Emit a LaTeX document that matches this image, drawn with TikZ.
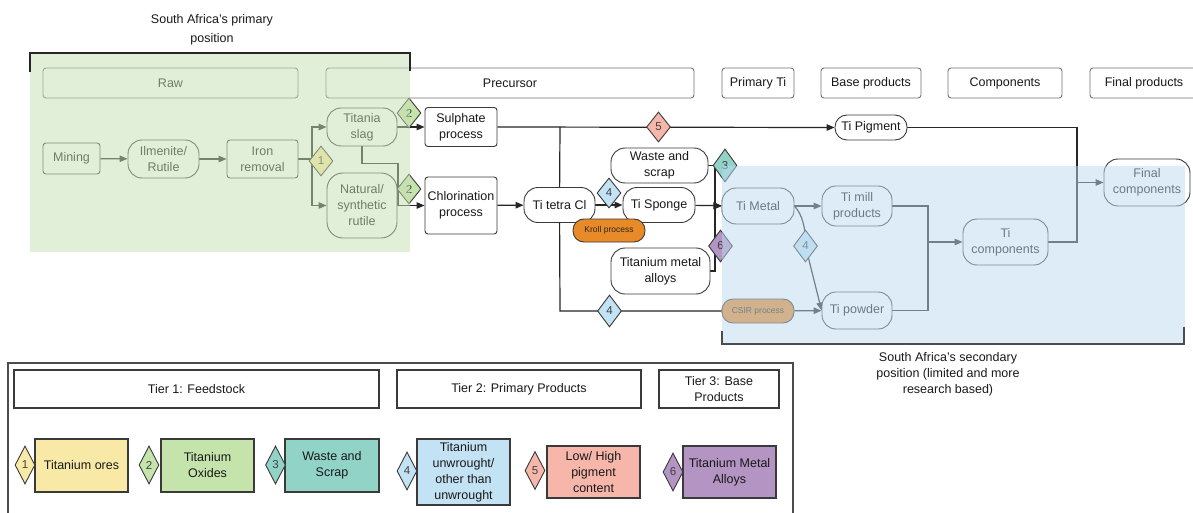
\documentclass[tikz,border=0pt]{standalone}
\usepackage{fontspec}
\setmainfont{Liberation Sans}
\usetikzlibrary{shapes.geometric,arrows.meta}

\definecolor{cyel}{HTML}{F8E9A6}
\definecolor{cgrn}{HTML}{C5E4AC}
\definecolor{cteal}{HTML}{92D3C8}
\definecolor{cblu}{HTML}{C3E3F5}
\definecolor{csal}{HTML}{F7B6AA}
\definecolor{cpur}{HTML}{B394C3}
\definecolor{corg}{HTML}{E98A28}
\definecolor{ovgrn}{rgb}{0.78,0.88,0.70}
\definecolor{ovblu}{rgb}{0.74,0.86,0.94}
\definecolor{edge}{HTML}{3A3A3A}

\pgfdeclarelayer{paper}
\pgfdeclarelayer{links}
\pgfdeclarelayer{shade}
\pgfdeclarelayer{front}
\pgfsetlayers{paper,links,main,shade,front}

\begin{document}
\begin{tikzpicture}[x=1pt,y=-1pt,
  txt/.style={font=\fontsize{12.5}{16}\selectfont, align=center, text=black!90},
  box/.style={txt, draw=edge, fill=white, line width=0.9pt, rounded corners=3pt, inner sep=1pt},
  pill/.style={txt, draw=edge, fill=white, line width=0.9pt, rounded corners=14pt, inner sep=1pt},
  hdr/.style={txt, draw=black!55, fill=white, line width=0.9pt, rounded corners=3pt, minimum height=30pt, inner sep=1pt},
  dia/.style={diamond, draw=edge, line width=0.9pt, inner sep=0pt, minimum width=24pt, minimum height=30pt, font=\fontsize{11.5}{11.5}\selectfont, text=black!75},
  ldia/.style={dia, minimum width=20pt, minimum height=38pt},
  lg/.style={txt, draw=edge, line width=1.2pt, inner sep=1pt},
  orgpill/.style={pill, fill=corg, rounded corners=11pt, font=\fontsize{8.5}{10}\selectfont, text=black!85},
  flow/.style={line width=1.2pt, draw=black!85},
  arr/.style={flow, -{Triangle[length=8pt,width=6.5pt]}},
]
\useasboundingbox (0,0) rectangle (1193,513);
\begin{pgfonlayer}{paper}
\fill[white] (0,0) rectangle (1193,513);
\end{pgfonlayer}

% ---------- column headers ----------
\node[hdr, minimum width=255pt] (hraw)   at (170.5,83) {Raw};
\node[hdr, minimum width=368pt] (hprec)  at (510,83)   {Precursor};
\node[hdr, minimum width=72pt]  (hpti)   at (758,83)   {Primary Ti};
\node[hdr, minimum width=100pt] (hbase)  at (871,83)   {Base products};
\node[hdr, minimum width=114pt] (hcomp)  at (1005,83)  {Components};
\node[hdr, minimum width=108pt] (hfinal) at (1144,83)  {Final products};

% ---------- process nodes ----------
\node[box,  minimum width=57pt, minimum height=31pt] (mining) at (71.5,158.5) {Mining};
\node[pill, minimum width=71pt, minimum height=38pt] (ilm)    at (163.5,159)  {Ilmenite/\\Rutile};
\node[box,  minimum width=71pt, minimum height=38pt] (iron)   at (262.5,159)  {Iron\\removal};
\node[pill, minimum width=70pt, minimum height=38pt] (slag)   at (362,127)    {Titania\\slag};
\node[pill, minimum width=70pt, minimum height=65pt, rounded corners=16pt] (natrut) at (362,205.5) {Natural/\\synthetic\\rutile};
\node[box,  minimum width=72pt, minimum height=39pt] (sulph)  at (461,127)    {Sulphate\\process};
\node[box,  minimum width=72pt, minimum height=57pt] (chlor)  at (461,205.5)  {Chlorination\\process};
\node[pill, minimum width=71pt, minimum height=35pt] (tcl)    at (559.5,205)  {Ti tetra Cl};
\node[pill, minimum width=72pt, minimum height=35pt] (sponge) at (659,205)    {Ti Sponge};
\node[pill, minimum width=97pt, minimum height=35pt] (waste)  at (659.5,165.5) {Waste and\\scrap};
\node[pill, minimum width=99pt, minimum height=46pt] (alloys) at (660.5,271)  {Titanium metal\\alloys};
\node[orgpill, minimum width=72pt, minimum height=23pt] (kroll) at (609,230.5) {Kroll process};
\node[pill, minimum width=72pt, minimum height=25pt, rounded corners=12pt] (tipig) at (871,127.5) {Ti Pigment};
\node[pill, minimum width=72pt, minimum height=36pt] (timetal) at (758,206)   {Ti Metal};
\node[pill, minimum width=70pt, minimum height=40pt] (timill)  at (857,206)   {Ti mill\\products};
\node[pill, minimum width=70pt, minimum height=37pt] (tipow)   at (857,310.5) {Ti powder};
\node[orgpill, minimum width=72pt, minimum height=24pt] (csir) at (758,311)   {CSIR process};
\node[pill, minimum width=85pt, minimum height=46pt] (ticomp)  at (1005.5,242) {Ti\\components};
\node[pill, minimum width=86pt, minimum height=47pt] (finalc)  at (1147,182.5) {Final\\components};

% ---------- category diamonds ----------
\node[dia, fill=cyel] (d1)  at (321,161)   {1};
\node[dia, fill=cgrn] (d2a) at (409,113)   {2};
\node[dia, fill=cgrn] (d2b) at (409,189)   {2};
\node[dia, fill=cblu] (d4a) at (609,193)   {4};
\node[dia, fill=cteal, minimum height=33pt] (d3) at (725,165.5) {3};
\node[dia, fill=cpur, minimum height=32pt]  (d6) at (720.5,246) {6};
\node[dia, fill=csal] (d5)  at (658.5,127) {5};
\node[dia, fill=cblu, minimum height=32pt]  (d4b) at (805.5,246) {4};
\node[dia, fill=cblu, minimum height=32pt]  (d4c) at (609.5,311) {4};

% ---------- junction points ----------
\coordinate (j1) at (312,159);
\coordinate (j2) at (398,205.5);
\coordinate (j3) at (715,206);
\coordinate (j4) at (560,127);
\coordinate (j5) at (560,311);
\coordinate (j6) at (928,242);
\coordinate (j7) at (1077,182.5);

% ---------- connectors ----------
\begin{pgfonlayer}{links}
\draw[arr] (mining) -- (ilm);
\draw[arr] (ilm) -- (iron);
\draw[flow] (iron.east) -- (j1);
\draw[arr] (j1) |- (slag.west);
\draw[arr] (j1) |- (natrut.west);
\draw[arr] (slag.east) -- (sulph.west);
\draw[flow] (slag.south) -- ++(0,17) -| (j2);
\draw[arr] (natrut.east) -- (chlor.west);
\draw[arr] (chlor) -- (tcl);
\draw[arr] (tcl) -- (sponge);
\draw[arr] (sponge) -- (timetal);
\draw[arr] (waste.east) -| (j3) -- (timetal.west);
\draw[arr] (alloys.east) -| (j3) -- (timetal.west);
\draw[arr] (sulph.east) -- (tipig.west);
\draw[flow] (tcl.center) -- (j4);
\draw[flow] (tcl.center) -- (j5) -- (csir.west);
\draw[arr] (csir) -- (tipow);
\draw[arr] (timetal) -- (timill);
\draw[arr] (timetal.east) .. controls (802,214) and (806,228) .. (d4b.center) -- (tipow.west);
\draw[flow] (timill.east) -| (j6);
\draw[flow] (tipow.east) -| (j6);
\draw[arr] (j6) -- (ticomp.west);
\draw[flow] (tipig.east) -| (j7);
\draw[flow] (ticomp.east) -| (j7);
\draw[arr] (j7) -- (finalc.west);
\end{pgfonlayer}

% ---------- position shading ----------
\begin{pgfonlayer}{shade}
\fill[ovgrn, fill opacity=0.5] (30,53) rectangle (410,252);
\fill[ovblu, fill opacity=0.5] (722,166) rectangle (1185,344);
\end{pgfonlayer}

% ---------- position brackets and captions ----------
\begin{pgfonlayer}{front}
\draw[line width=1.5pt, black!85] (30,72) -- (30,53) -- (410,53) -- (410,71);
\node[txt, font=\fontsize{12.5}{19}\selectfont] (ptitle) at (212,30) {South Africa's primary\\position};
\draw[line width=1.3pt, black!70] (722,331) -- (722,344) -- (1184,344) -- (1184,327);
\node[txt, font=\fontsize{12.5}{16}\selectfont] (stitle) at (948,374) {South Africa's secondary\\position (limited and more\\research based)};
\end{pgfonlayer}

% ---------- legend ----------
\draw[line width=1.2pt, black!70] (8,514) -- (8,363) -- (793,363) -- (793,514);
\node[lg, minimum width=365pt, minimum height=38pt] (t1) at (196.5,389) {Tier 1: Feedstock};
\node[lg, minimum width=244pt, minimum height=38pt] (t2) at (519,389)   {Tier 2: Primary Products};
\node[lg, minimum width=120pt, minimum height=38pt] (t3) at (719,389)   {Tier 3: Base\\Products};

\node[lg, fill=cyel,  minimum width=93pt, minimum height=53pt] (l1) at (81.5,465.5)  {Titanium ores};
\node[lg, fill=cgrn,  minimum width=93pt, minimum height=53pt] (l2) at (207.5,465.5) {Titanium\\Oxides};
\node[lg, fill=cteal, minimum width=94pt, minimum height=53pt] (l3) at (332,465.5)   {Waste and\\Scrap};
\node[lg, fill=cblu,  minimum width=93pt, minimum height=66pt] (l4) at (463.5,472)   {Titanium\\unwrought/\\other than\\unwrought};
\node[lg, fill=csal,  minimum width=93pt, minimum height=52pt] (l5) at (593.5,472)   {Low/ High\\pigment\\content};
\node[lg, fill=cpur,  minimum width=93pt, minimum height=52pt] (l6) at (729.5,472)   {Titanium Metal\\Alloys};

\node[ldia, fill=cyel]  (k1) at (25,465)    {1};
\node[ldia, fill=cgrn]  (k2) at (149,465)   {2};
\node[ldia, fill=cteal] (k3) at (275.5,465) {3};
\node[ldia, fill=cblu]  (k4) at (407,471)   {4};
\node[ldia, fill=csal]  (k5) at (535,470.5) {5};
\node[ldia, fill=cpur]  (k6) at (673,472)   {6};
\end{tikzpicture}
\end{document}
